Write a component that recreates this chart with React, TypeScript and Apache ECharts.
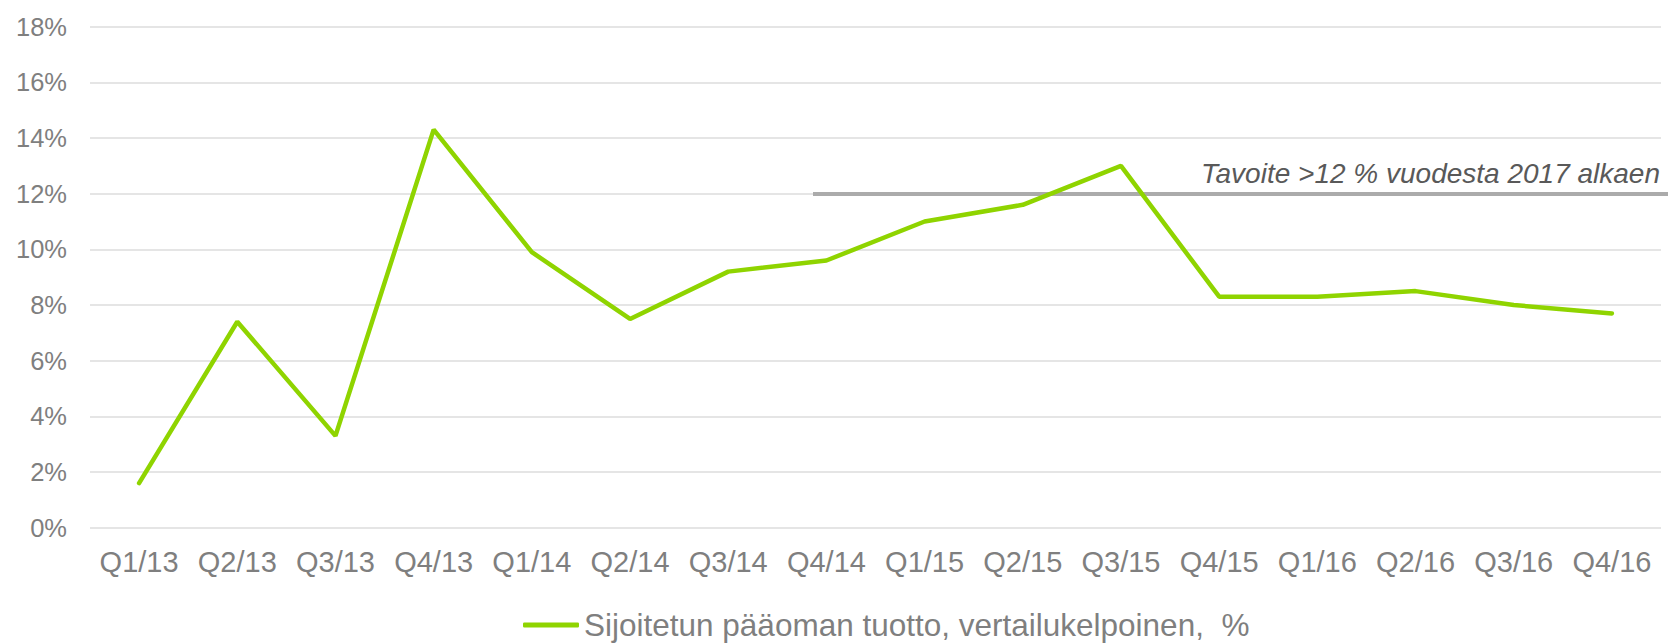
import React, { useEffect, useRef } from "react";
import * as echarts from "echarts";

const categories = [
  "Q1/13", "Q2/13", "Q3/13", "Q4/13",
  "Q1/14", "Q2/14", "Q3/14", "Q4/14",
  "Q1/15", "Q2/15", "Q3/15", "Q4/15",
  "Q1/16", "Q2/16", "Q3/16", "Q4/16",
];
const roceValues = [1.6, 7.4, 3.3, 14.3, 9.9, 7.5, 9.2, 9.6, 11.0, 11.6, 13.0, 8.3, 8.3, 8.5, 8.0, 7.7];
const seriesName = "Sijoitetun pääoman tuotto, vertailukelpoinen,  %";
const targetValue = 12;
const targetLabel = "Tavoite >12 % vuodesta 2017 alkaen";

const FONT = "'Liberation Sans', Arial, sans-serif";

export default function App() {
  const ref = useRef<HTMLDivElement>(null);
  useEffect(() => {
    if (!ref.current) return;
    const chart = echarts.init(ref.current, undefined, { renderer: "svg" });
    chart.setOption({
      animation: false,
      textStyle: { fontFamily: FONT },
      grid: { left: 90, right: 7, top: 26.7, bottom: 115.3, containLabel: false },
      legend: {
        show: true,
        left: 518,
        top: 604,
        icon: "roundRect",
        itemWidth: 56,
        itemHeight: 5,
        textStyle: { fontSize: 31.5, color: "#7f7f7f", fontFamily: FONT },
        data: [seriesName],
      },
      xAxis: {
        type: "category",
        data: categories,
        boundaryGap: true,
        axisLine: { show: false },
        axisTick: { show: false },
        axisLabel: { fontSize: 29, color: "#7f7f7f", margin: 20, fontFamily: FONT, interval: 0 },
      },
      yAxis: {
        type: "value",
        min: 0,
        max: 18,
        interval: 2,
        axisLine: { show: false },
        axisTick: { show: false },
        axisLabel: { fontSize: 25.5, color: "#7f7f7f", margin: 23, formatter: "{value}%", fontFamily: FONT },
        splitLine: { lineStyle: { color: "#dcdcdc", width: 1.5 } },
      },
      series: [
        {
          name: seriesName,
          type: "line",
          data: roceValues,
          symbol: "none",
          itemStyle: { color: "#8fd400" },
          lineStyle: { color: "#8fd400", width: 4.5, cap: "round" },
          z: 3,
          markLine: {
            silent: true,
            symbol: "none",
            z: 2,
            lineStyle: { color: "#ababab", width: 4, type: "solid" },
            label: {
              show: true,
              position: "insideEndTop",
              formatter: targetLabel,
              fontSize: 28,
              fontStyle: "italic",
              color: "#595959",
              fontFamily: FONT,
              distance: [8, 6],
            },
            data: [[{ x: 813, yAxis: targetValue }, { x: "100%", yAxis: targetValue }]],
          },
        },
      ],
    });
    return () => chart.dispose();
  }, []);
  return (
    <div
      ref={ref}
      style={{ position: "fixed", left: 0, top: 0, width: 1668, height: 643, background: "#fff" }}
    />
  );
}
